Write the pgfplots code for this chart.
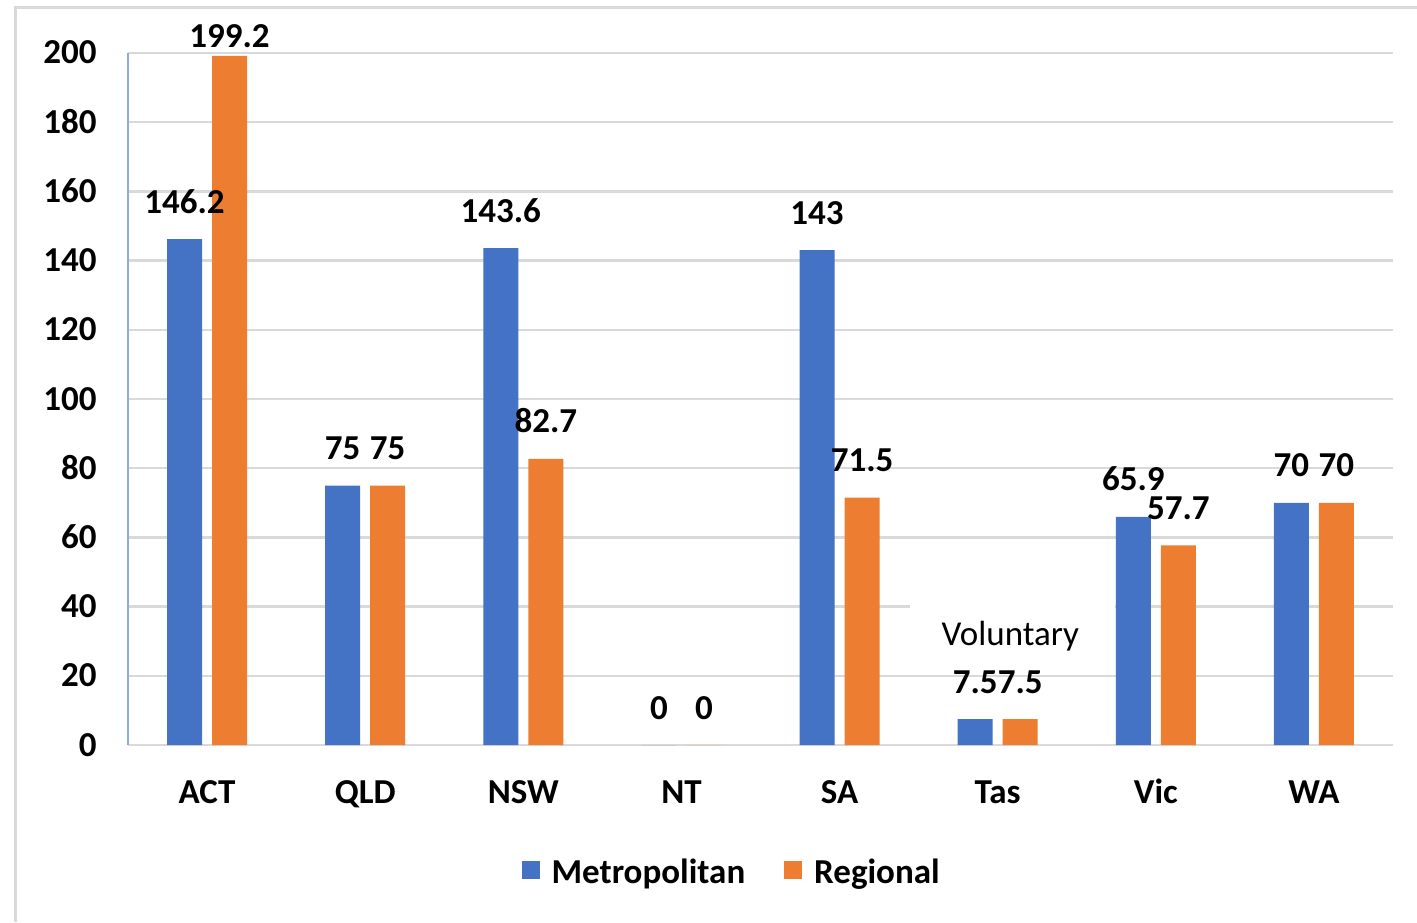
\documentclass[border=0pt]{standalone}
\usepackage{pgfplots}
\pgfplotsset{compat=1.18}
\usepackage{fontspec}
\setmainfont{Carlito}
\definecolor{metro}{HTML}{4472C4}
\definecolor{regio}{HTML}{ED7D31}
\definecolor{gridgray}{HTML}{D9D9D9}
\definecolor{yaxisblue}{HTML}{8FAADC}
\newcommand\cf{\fontsize{17.5}{21}\selectfont}
\begin{document}
\begin{tikzpicture}
\useasboundingbox (0,0) rectangle (708.5pt,461pt);
% outer frame (only top and left show)
\draw[gridgray, line width=1.5pt] (7.5pt,0) -- (7.5pt,457pt) -- (708.5pt,457pt);
\begin{axis}[
    at={(64pt,88.5pt)}, anchor=south west,
    scale only axis, width=632.5pt, height=346pt,
    ybar=5pt, bar width=17.5pt,
    xmin=-0.5, xmax=7.5, ymin=0, ymax=200,
    xtick={0,...,7},
    xticklabels={ACT,QLD,NSW,NT,SA,Tas,Vic,WA},
    ytick={0,20,...,200},
    /pgf/number format/assume math mode=true,
    major tick length=0pt,
    axis x line*=bottom, axis y line*=left,
    x axis line style={gridgray, line width=1.2pt, -},
    y axis line style={yaxisblue, line width=1pt, -},
    ymajorgrids, grid style={gridgray, line width=1.2pt},
    tick label style={font=\bfseries\cf, inner sep=0pt},
    xticklabel style={anchor=base, yshift=-29pt},
    yticklabel style={anchor=base east, xshift=-15.5pt, yshift=-5.5pt},
    point meta=explicit symbolic,
    nodes near coords,
    nodes near coords style={font=\bfseries\cf, inner sep=0pt, anchor=base, yshift=13pt},
    clip=false,
    legend style={at={(0.478,-0.185)}, anchor=center, draw=none, fill=none,
        font=\bfseries\cf, legend columns=-1,
        /tikz/every odd column/.append style={column sep=4pt},
        /tikz/every even column/.append style={column sep=17.5pt}},
    legend image code/.code={\fill[#1] (0pt,-3pt) rectangle (9pt,6pt);},
]
\addplot[fill=metro, draw=none] coordinates {
    (0,146.2) [146.2] (1,75) [75] (2,143.6) [143.6] (3,0) [0]
    (4,143) [143] (5,7.5) [7.5] (6,65.9) [65.9] (7,70) [70]
};
\addplot[fill=regio, draw=none] coordinates {
    (0,199.2) [{\raisebox{-9pt}{199.2}}] (1,75) [75] (2,82.7) [82.7] (3,0) [0]
    (4,71.5) [71.5] (5,7.5) [7.5] (6,57.7) [57.7] (7,70) [70]
};
\legend{Metropolitan, Regional}
\fill[white] (axis cs:4.447,36.5) rectangle (axis cs:5.743,44);
\node[font=\cf, inner sep=0pt] at (axis cs:5.08,31.5) {Voluntary};
\end{axis}
\end{tikzpicture}
\end{document}
